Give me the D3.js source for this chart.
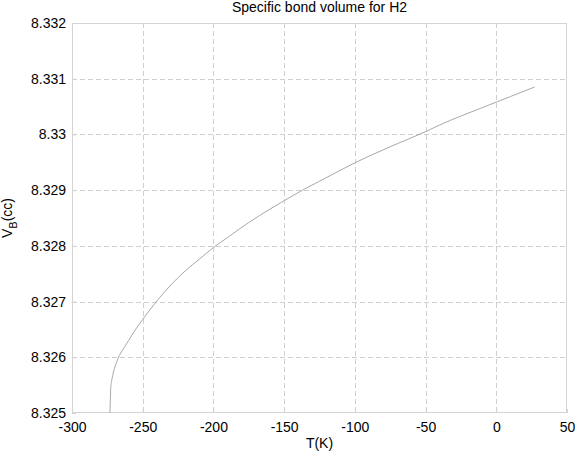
<!DOCTYPE html>
<html><head><meta charset="utf-8">
<script src="https://cdn.jsdelivr.net/npm/d3@7"></script>
<style>body{margin:0;background:#fff}svg{display:block;font-family:"Liberation Sans",Arial,sans-serif}</style>
</head><body>
<script>
const temps = [-273.15,-273.0,-272.8,-272.6,-272.0,-271.0,-270.0,-268.5,-266.5,-263,-260,-256.6,-250,-240,-230,-220,-210,-200,-190,-175,-160,-150,-137,-125,-110,-100,-90,-75,-60,-50,-40,-25,-10,0,10,20,27];
const volumes = [8.32500,8.32515,8.32532,8.32545,8.32557,8.32570,8.32580,8.32591,8.32603,8.32618,8.32630,8.32644,8.32668,8.32701,8.32730,8.32755,8.32776,8.32797,8.32815,8.32842,8.32866,8.32881,8.32900,8.32916,8.32936,8.32949,8.32961,8.32978,8.32994,8.33005,8.33017,8.33033,8.33048,8.33058,8.33068,8.33078,8.33085];
const xTicks = [-300,-250,-200,-150,-100,-50,0,50];
const xTickLabels = ["-300","-250","-200","-150","-100","-50","0","50"];
const yTicks = [8.325,8.326,8.327,8.328,8.329,8.330,8.331,8.332];
const yTickLabels = ["8.325","8.326","8.327","8.328","8.329","8.33","8.331","8.332"];

const W=575,H=455, L=72,R=567,T=23,B=413;
const svg=d3.select("body").append("svg").attr("width",W).attr("height",H);
const x=d3.scaleLinear().domain([-300,50]).range([L,R]);
const y=d3.scaleLinear().domain([8.325,8.332]).range([B,T]);
const gridC="#cfcfcf", boxC="#d4d4d4";

// grid
svg.append("g").selectAll("line").data(xTicks.slice(1,-1)).join("line")
  .attr("x1",d=>Math.round(x(d))+0.5).attr("x2",d=>Math.round(x(d))+0.5).attr("y1",T).attr("y2",B)
  .attr("stroke",gridC).attr("stroke-dasharray","5,3");
svg.append("g").selectAll("line").data(yTicks.slice(1,-1)).join("line")
  .attr("y1",d=>Math.round(y(d))+0.5).attr("y2",d=>Math.round(y(d))+0.5).attr("x1",L).attr("x2",R)
  .attr("stroke",gridC).attr("stroke-dasharray","5,3");

// axes
const xa=svg.append("g").attr("transform",`translate(0,${B})`)
  .call(d3.axisBottom(x).tickValues(xTicks).tickSizeInner(-4).tickSizeOuter(0).tickPadding(9).tickFormat((d,i)=>xTickLabels[i]));
const ya=svg.append("g").attr("transform",`translate(${L},0)`)
  .call(d3.axisLeft(y).tickValues(yTicks).tickSizeInner(-4).tickSizeOuter(0).tickPadding(6).tickFormat((d,i)=>yTickLabels[i]));
[xa,ya].forEach(a=>{a.select(".domain").remove();a.selectAll("line").attr("stroke",boxC);
  a.selectAll("text").attr("fill","#000").attr("font-size",14).attr("font-family","Liberation Sans, Arial, sans-serif");});
xa.selectAll("text").attr("dy","0.71em");

// box
svg.append("rect").attr("x",L+0.5).attr("y",T+0.5).attr("width",R-L-1).attr("height",B-T-1)
  .attr("fill","none").attr("stroke",boxC);

// line
const pts=temps.map((t,i)=>[t,volumes[i]]);
svg.append("path").datum(pts).attr("fill","none").attr("stroke","#a8a8a8").attr("stroke-width",1)
  .attr("d",d3.line().x(d=>x(d[0])).y(d=>y(d[1])).curve(d3.curveMonotoneX));

// labels
svg.append("text").attr("x",(L+R)/2).attr("y",11.5).attr("text-anchor","middle").attr("font-size",14).text("Specific bond volume for H2");
svg.append("text").attr("x",(L+R)/2).attr("y",448).attr("text-anchor","middle").attr("font-size",14).text("T(K)");
const yl=svg.append("text").attr("transform",`translate(12,${(T+B)/2}) rotate(-90)`).attr("text-anchor","middle").attr("font-size",14);
yl.append("tspan").text("V");
yl.append("tspan").attr("font-size",11).attr("dy",5).text("B");
yl.append("tspan").attr("dy",-5).text("(cc)");
</script>
</body></html>
